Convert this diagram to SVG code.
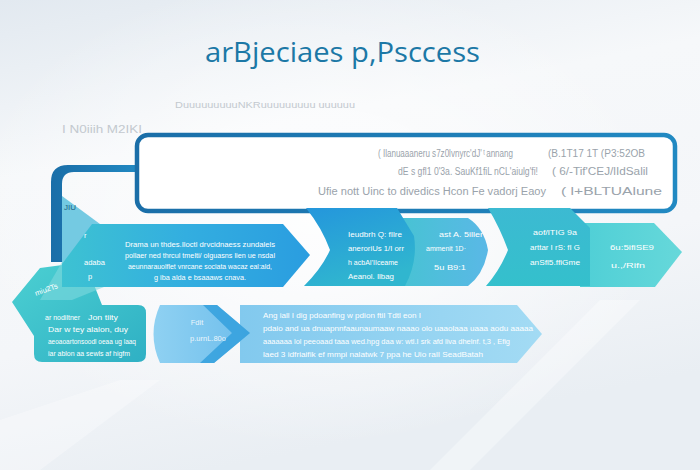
<svg xmlns="http://www.w3.org/2000/svg" width="700" height="470" viewBox="0 0 700 470">
<style>
.t{font-family:"Liberation Sans",Arial,sans-serif;fill:#ffffff;font-size:7.5px}
.g{font-family:"Liberation Sans",Arial,sans-serif;fill:#9aa3ab;font-size:10px}
.f{font-family:"Liberation Sans",Arial,sans-serif;fill:#c3c9cf}
.title{font-family:"Open Sans","DejaVu Sans",sans-serif;fill:#1c78a6;font-size:27px}
</style>
<defs>
<linearGradient id="bg" x1="0" y1="0" x2="0.3" y2="1">
<stop offset="0" stop-color="#e2e9f0"/>
<stop offset="0.35" stop-color="#f6f8fa"/>
<stop offset="0.7" stop-color="#f4f6f9"/>
<stop offset="1" stop-color="#e9eef3"/>
</linearGradient>
<radialGradient id="glow" cx="0.45" cy="0.45" r="0.5">
<stop offset="0" stop-color="#ffffff" stop-opacity="0.9"/>
<stop offset="1" stop-color="#ffffff" stop-opacity="0"/>
</radialGradient>
<linearGradient id="a1" x1="0" y1="0" x2="1" y2="0">
<stop offset="0" stop-color="#3dc2d2"/>
<stop offset="0.5" stop-color="#33aee0"/>
<stop offset="1" stop-color="#2a9de0"/>
</linearGradient>
<linearGradient id="a2" x1="0" y1="0" x2="0.4" y2="1">
<stop offset="0" stop-color="#2496dc"/>
<stop offset="1" stop-color="#30b6cf"/>
</linearGradient>
<linearGradient id="a3" x1="0" y1="0" x2="1" y2="0">
<stop offset="0" stop-color="#47c3d3"/>
<stop offset="1" stop-color="#5ab8e6"/>
</linearGradient>
<linearGradient id="a4" x1="0" y1="0" x2="0" y2="1">
<stop offset="0" stop-color="#3cbad2"/>
<stop offset="1" stop-color="#34c0cc"/>
</linearGradient>
<linearGradient id="a5" x1="0" y1="0" x2="1" y2="0">
<stop offset="0" stop-color="#4fcfd6"/>
<stop offset="1" stop-color="#66d8da"/>
</linearGradient>
<linearGradient id="tl" x1="0" y1="0" x2="1" y2="1">
<stop offset="0" stop-color="#4cd0d2"/>
<stop offset="1" stop-color="#2fb0c4"/>
</linearGradient>
<linearGradient id="lb" x1="0" y1="0" x2="1" y2="0">
<stop offset="0" stop-color="#82c9ee"/>
<stop offset="1" stop-color="#a3dbf4"/>
</linearGradient>
<linearGradient id="rb" x1="0" y1="0" x2="1" y2="0">
<stop offset="0" stop-color="#8fd1f2"/>
<stop offset="1" stop-color="#6fbeec"/>
</linearGradient>
<linearGradient id="fr" x1="0" y1="0" x2="1" y2="0">
<stop offset="0" stop-color="#1a6ea8"/>
<stop offset="1" stop-color="#2189c2"/>
</linearGradient>
</defs>

<rect width="700" height="470" fill="url(#bg)"/>
<rect width="700" height="470" fill="url(#glow)"/>
<path d="M430 470 L600 300 L640 300 L470 470 Z" fill="#ffffff" opacity="0.35"/>
<path d="M0 420 L120 380 L160 380 L40 470 L0 470 Z" fill="#ffffff" opacity="0.3"/>

<g id="title">
<text class="title" x="205" y="62" textLength="275" lengthAdjust="spacingAndGlyphs">arBjeciaes p,Psccess</text>
</g>
<g id="subtitle">
<text class="f" x="175" y="108" font-size="9" textLength="180" lengthAdjust="spacingAndGlyphs">DuuuuuuuuuNKRuuuuuuuuu uuuuuu</text>
<text class="f" x="62" y="133" font-size="11" fill="#b3bac2" textLength="80" lengthAdjust="spacingAndGlyphs">I N0iiih M2IKI</text>
</g>

<g id="frame">
<path d="M140 165 H68 Q51 165 51 182 V262 H62 V184 Q62 172 74 172 H140 Z" fill="url(#fr)"/>
<path d="M62 196 L100 224 L94 264 L62 264 Z" fill="#52bedc" opacity="0.8"/>
<text x="64" y="210" font-family="Liberation Sans,sans-serif" font-size="8" fill="#1d5f80">JIU</text>
</g>

<g id="box">
<rect x="137" y="135" width="538" height="76" rx="11" fill="#ffffff" stroke="url(#fr)" stroke-width="4.5"/>
<text class="g" x="378" y="157" font-size="7.5" textLength="135" lengthAdjust="spacingAndGlyphs">( Ilanuaaaneru s7z0lvnyrc'dJ' ͭ annang</text>
<text class="g" x="548" y="157" font-size="9.5" textLength="97" lengthAdjust="spacingAndGlyphs">(B.1T17 1T (P3:52OB</text>
<text class="g" x="398" y="175" font-size="6.8" textLength="140" lengthAdjust="spacingAndGlyphs">dE s gfl1 0'3a. SauKf1fiL nCL'aiulg'fi!</text>
<text class="g" x="552" y="175" font-size="9" textLength="96" lengthAdjust="spacingAndGlyphs">(     6/-Tif'CEJ/lIdSalil</text>
<text class="g" x="318" y="195" font-size="9.5" textLength="228" lengthAdjust="spacingAndGlyphs">Ufie nott Uinc to divedics Hcon Fe vadorj Eaoy</text>
<text class="g" x="561" y="195" textLength="101" lengthAdjust="spacingAndGlyphs">(     l+BLTUAlune</text>
</g>

<g id="step-left">
<path d="M12 302 L40 268 L85 262 L102 305 H138 Q146 305 146 313 V354 Q146 362 138 362 H42 Q34 362 34 354 V336 Z" fill="url(#tl)"/>
<path d="M62 262 L96 236 L104 287 L72 300 L40 300 Z" fill="#7fd8de" opacity="0.6"/>
<text class="t" x="36" y="296" font-size="8" transform="rotate(-20 36 296)">miu2Ts</text>
<text class="t" x="45" y="320" textLength="35" lengthAdjust="spacingAndGlyphs">ar nodiltner</text>
<text class="t" x="88" y="320" textLength="30" lengthAdjust="spacingAndGlyphs">Jon tiity</text>
<text class="t" x="48" y="332" textLength="80" lengthAdjust="spacingAndGlyphs">Dar w tey  alalon, duy</text>
<text class="t" x="48" y="344" textLength="88" lengthAdjust="spacingAndGlyphs">aeoaoartonsoodl oeaa ug  laaq</text>
<text class="t" x="48" y="356" textLength="82" lengthAdjust="spacingAndGlyphs">iar ablon aa sewls af higfm</text>
</g>

<g id="step-1">
<path d="M62 264 L92 224 H283 L310 255 L283 287 H62 Z" fill="url(#a1)"/>
<text class="t" x="84" y="238" font-size="8">r</text>
<text class="t" x="84" y="265" font-size="6.5">adaba</text>
<text class="t" x="88" y="279" font-size="8">p</text>
<text class="t" x="200" y="247" text-anchor="middle" textLength="150" lengthAdjust="spacingAndGlyphs">Drama un thdes.Iloctl drvcidnaess zundalels</text>
<text class="t" x="200" y="258" text-anchor="middle" textLength="150" lengthAdjust="spacingAndGlyphs">pollaer ned thrcul tmelti/ olguasns lien ue nsdal</text>
<text class="t" x="200" y="269" text-anchor="middle" textLength="144" lengthAdjust="spacingAndGlyphs">aeunnarauolflet vnrcane sociata wacaz eal:ald,</text>
<text class="t" x="200" y="280" text-anchor="middle" textLength="92" lengthAdjust="spacingAndGlyphs">g iba alda e bsaaaws cnava.</text>
</g>

<g id="step-5">
<path d="M585 223 H654 L682 252 L655 287 H580 Z" fill="url(#a5)"/>
<text class="t" x="632" y="250" text-anchor="middle" font-size="8" textLength="44" lengthAdjust="spacingAndGlyphs">6u:5ifiSE9</text>
<text class="t" x="628" y="268" text-anchor="middle" font-size="8" textLength="34" lengthAdjust="spacingAndGlyphs">u.,/Rifn</text>
</g>
<g id="step-4">
<path d="M488 208 H570 L590 228 V286 H486 Q500 270 508 250 Q500 228 488 208 Z" fill="url(#a4)"/>
<text class="t" x="555" y="235" text-anchor="middle" font-size="8" textLength="44" lengthAdjust="spacingAndGlyphs">aof/lTIG 9a</text>
<text class="t" x="555" y="250" text-anchor="middle" font-size="8" textLength="50" lengthAdjust="spacingAndGlyphs">arttar I rS: fI G</text>
<text class="t" x="555" y="265" text-anchor="middle" font-size="8" textLength="50" lengthAdjust="spacingAndGlyphs">anSfl5.ffiGme</text>
</g>
<g id="step-3">
<path d="M398 218 H468 Q484 228 488 250 Q484 274 468 286 H400 Z" fill="url(#a3)"/>
<text class="t" x="461" y="237" text-anchor="middle" font-size="8" textLength="44" lengthAdjust="spacingAndGlyphs">ast A. 5iller</text>
<text class="t" x="446" y="251" text-anchor="middle" font-size="8" textLength="40" lengthAdjust="spacingAndGlyphs">ammenit 1D·</text>
<text class="t" x="450" y="270" text-anchor="middle" font-size="8" textLength="32" lengthAdjust="spacingAndGlyphs">5u B9:1</text>
</g>
<g id="step-2">
<path d="M306 208 H397 L414 236 Q418 262 405 286 H304 Q322 268 330 250 Q322 228 306 208 Z" fill="url(#a2)"/>
<text class="t" x="348" y="237" font-size="8" textLength="54" lengthAdjust="spacingAndGlyphs">Ieudbrh Q: fIlre</text>
<text class="t" x="348" y="251" font-size="8" textLength="56" lengthAdjust="spacingAndGlyphs">aneroriUs 1/I orr</text>
<text class="t" x="348" y="265" font-size="8" textLength="50" lengthAdjust="spacingAndGlyphs">h acbAI'IIceame</text>
<text class="t" x="348" y="279" font-size="8" textLength="46" lengthAdjust="spacingAndGlyphs">Aeanol. Ilbag</text>
</g>

<g id="step-long">
<path d="M240 305 H517 L542 334 L517 363 H240 Z" fill="url(#lb)"/>
<text class="t" x="263" y="318" textLength="158" lengthAdjust="spacingAndGlyphs">Ang iall I dig pdoanfing  w pdion ftil Tdtl eon I</text>
<text class="t" x="263" y="331" textLength="270" lengthAdjust="spacingAndGlyphs">pdaio and ua dnuapnnfaaunaumaaw naaao olo uaaolaaa uaaa aodu aaaaa</text>
<text class="t" x="263" y="344" textLength="247" lengthAdjust="spacingAndGlyphs">aaaaaaa lol peeoaad taaa wed.hpg daa w: wtl.I srk afd liva dhelnf. t,3 , Efig</text>
<text class="t" x="263" y="357" textLength="220" lengthAdjust="spacingAndGlyphs">laed 3 idfriaifik ef mmpi nalatwk 7 ppa he   Uio ralI SeadBatah</text>
</g>
<g id="step-round">
<path d="M160 305 H217 L250 333 L214 363 H160 Q147 334 160 305 Z" fill="url(#rb)"/>
<path d="M203 305 H217 L250 333 L214 363 H200 L232 333 Z" fill="#2f9edc" opacity="0.8"/>
<text class="t" x="197" y="325" text-anchor="middle" font-size="9" opacity="0.85">Fdit</text>
<text class="t" x="208" y="341" text-anchor="middle" font-size="9" opacity="0.85">p.urnL.80o</text>
</g>
<g id="connectors"></g>
</svg>
